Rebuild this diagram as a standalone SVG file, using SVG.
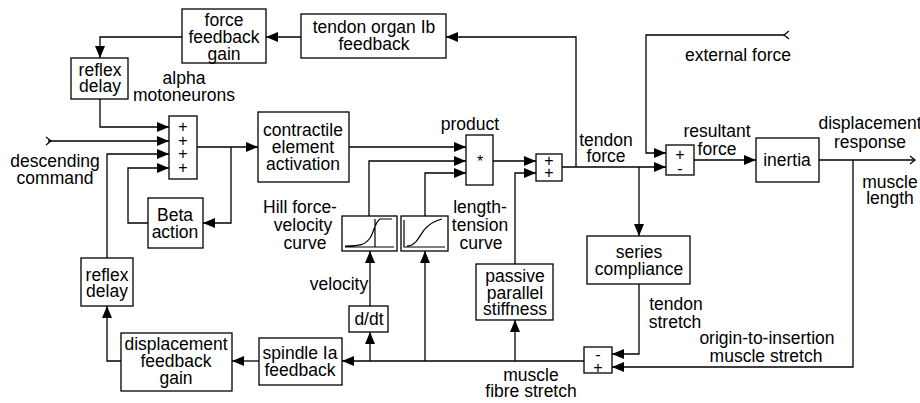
<svg xmlns="http://www.w3.org/2000/svg" width="920" height="403" viewBox="0 0 920 403">
<style>
.b{fill:#fff;stroke:#000;stroke-width:1.3}
.t{font-family:"Liberation Sans",Arial,sans-serif;font-size:17.5px;fill:#000;text-anchor:middle}
.s{font-family:"Liberation Sans",Arial,sans-serif;font-size:16px;fill:#000;text-anchor:middle}
.l{fill:none;stroke:#000;stroke-width:1.3}
.a{fill:none;stroke:#000;stroke-width:1.3;marker-end:url(#ah)}
.c{fill:none;stroke:#000;stroke-width:1.2}
</style>
<defs>
<marker id="ah" markerUnits="userSpaceOnUse" markerWidth="13" markerHeight="11" refX="12" refY="5" orient="auto">
<path d="M0,0 L12,5 L0,10 Z" fill="#000"/>
</marker>
</defs>
<rect width="920" height="403" fill="#fff"/>
<g id="connectors">
<path class="a" d="M301,37 H266"/>
<path class="a" d="M182,37 H100 V58"/>
<path class="a" d="M100,99 V127 H169"/>
<path class="a" d="M48,141 H169"/>
<path class="a" d="M107,258 V154 H169"/>
<path class="a" d="M148,223 H128 V168 H169"/>
<path class="a" d="M197,147 H258"/>
<path class="a" d="M231,147 V223 H203"/>
<path class="a" d="M349,147 H466"/>
<path class="a" d="M369,216 V161 H466"/>
<path class="a" d="M425,216 V173 H466"/>
<path class="a" d="M493,161 H536"/>
<path class="a" d="M515,264 V173 H536"/>
<path class="a" d="M562,167 H666"/>
<path class="a" d="M576,167 V37 H446"/>
<path class="a" d="M785,35 H646 V153 H666"/>
<path class="a" d="M639,167 V236"/>
<path class="a" d="M694,160 H756"/>
<path class="l" d="M819,160 H915"/>
<path class="a" d="M853,160 V367 H612"/>
<path class="a" d="M639,284 V354 H612"/>
<path class="a" d="M584,361 H342"/>
<path class="a" d="M370,361 V332"/>
<path class="a" d="M370,306 V251"/>
<path class="a" d="M425,361 V251"/>
<path class="a" d="M515,361 V320"/>
<path class="a" d="M259,361 H232"/>
<path class="a" d="M121,361 H107 V306"/>
<path class="c" d="M46,137 L51,141 L46,145"/>
<path class="c" d="M789,31 L784,35 L789,39"/>
<path class="c" d="M910,156 L915,160 L910,164"/>
</g>
<g id="force-feedback-gain">
<rect class="b" x="182" y="9" width="84" height="54"/>
<text class="t" x="224" y="26">force<tspan x="224" dy="17">feedback</tspan><tspan x="224" dy="17">gain</tspan></text>
</g>
<g id="tendon-organ">
<rect class="b" x="301" y="14" width="145" height="44"/>
<text class="t" x="374" y="33">tendon organ Ib<tspan x="374" dy="17">feedback</tspan></text>
</g>
<g id="reflex-delay-top">
<rect class="b" x="71" y="58" width="57" height="41"/>
<text class="t" x="100" y="76">reflex<tspan x="100" dy="16">delay</tspan></text>
</g>
<g id="alpha-label">
<text class="t" x="184" y="84">alpha<tspan x="184" dy="17">motoneurons</tspan></text>
</g>
<g id="sum-alpha">
<rect class="b" x="169" y="116" width="28" height="63"/>
<text class="s" x="183" y="132">+<tspan x="183" dy="14">+</tspan><tspan x="183" dy="13">+</tspan><tspan x="183" dy="14">+</tspan></text>
</g>
<g id="descending-command">
<text class="t" x="55" y="167">descending<tspan x="55" dy="17">command</tspan></text>
</g>
<g id="contractile">
<rect class="b" x="258" y="112" width="91" height="70"/>
<text class="t" x="303" y="136">contractile<tspan x="303" dy="17">element</tspan><tspan x="303" dy="17">activation</tspan></text>
</g>
<g id="beta-action">
<rect class="b" x="148" y="198" width="55" height="50"/>
<text class="t" x="175" y="221">Beta<tspan x="175" dy="17">action</tspan></text>
</g>
<g id="product">
<text class="t" x="470" y="130">product</text>
<rect class="b" x="466" y="135" width="27" height="50"/>
<text class="s" x="480" y="167">*</text>
</g>
<g id="hill-curve">
<rect class="b" x="342" y="216" width="55" height="35"/>
<path class="c" d="M345,247 H394 M375,219 V247 M345,246 C360,246 365,245 370,238 C374,232 375,222 380,219 L392,219"/>
<text class="t" x="300" y="213">Hill force-<tspan x="303" dy="18">velocity</tspan><tspan x="305" dy="18">curve</tspan></text>
</g>
<g id="length-tension">
<rect class="b" x="401" y="216" width="47" height="35"/>
<path class="c" d="M404,220 V247 H445 M407,246 C418,246 420,232 428,226 C434,221 438,220 442,219"/>
<text class="t" x="480" y="213">length-<tspan x="480" dy="18">tension</tspan><tspan x="481" dy="18">curve</tspan></text>
</g>
<g id="sum-tendon">
<rect class="b" x="536" y="154" width="26" height="27"/>
<text class="s" x="549" y="166">+<tspan x="549" dy="12">+</tspan></text>
</g>
<g id="tendon-force-label">
<text class="t" x="606" y="146">tendon<tspan x="606" dy="16">force</tspan></text>
</g>
<g id="external-force">
<text class="t" x="738" y="61">external force</text>
</g>
<g id="sum-resultant">
<rect class="b" x="666" y="145" width="28" height="30"/>
<text class="s" x="680" y="160">+<tspan x="680" dy="14">-</tspan></text>
</g>
<g id="resultant-label">
<text class="t" x="717" y="137">resultant<tspan x="717" dy="18">force</tspan></text>
</g>
<g id="inertia">
<rect class="b" x="756" y="138" width="63" height="44"/>
<text class="t" x="787" y="166">inertia</text>
</g>
<g id="displacement-response">
<text class="t" x="870" y="129">displacement<tspan x="870" dy="19">response</tspan></text>
</g>
<g id="muscle-length">
<text class="t" x="890" y="188">muscle<tspan x="890" dy="16">length</tspan></text>
</g>
<g id="series-compliance">
<rect class="b" x="587" y="236" width="103" height="48"/>
<text class="t" x="639" y="258">series<tspan x="639" dy="17">compliance</tspan></text>
</g>
<g id="tendon-stretch">
<text class="t" x="676" y="310">tendon<tspan x="675" dy="18">stretch</tspan></text>
</g>
<g id="origin-insertion">
<text class="t" x="767" y="344">origin-to-insertion<tspan x="766" dy="18">muscle stretch</tspan></text>
</g>
<g id="sum-fibre">
<rect class="b" x="584" y="347" width="28" height="26"/>
<text class="s" x="598" y="360">-<tspan x="598" dy="13">+</tspan></text>
</g>
<g id="muscle-fibre-stretch">
<text class="t" x="531" y="381">muscle<tspan x="531" dy="16">fibre stretch</tspan></text>
</g>
<g id="passive-stiffness">
<rect class="b" x="476" y="264" width="77" height="56"/>
<text class="t" x="515" y="282">passive<tspan x="515" dy="17">parallel</tspan><tspan x="515" dy="16">stiffness</tspan></text>
</g>
<g id="ddt">
<rect class="b" x="349" y="306" width="39" height="26"/>
<text class="t" x="369" y="325">d/dt</text>
</g>
<g id="velocity-label">
<text class="t" x="339" y="290">velocity</text>
</g>
<g id="spindle">
<rect class="b" x="259" y="338" width="83" height="47"/>
<text class="t" x="300" y="359">spindle Ia<tspan x="300" dy="17">feedback</tspan></text>
</g>
<g id="displacement-gain">
<rect class="b" x="121" y="333" width="111" height="58"/>
<text class="t" x="176" y="350">displacement<tspan x="176" dy="17">feedback</tspan><tspan x="176" dy="17">gain</tspan></text>
</g>
<g id="reflex-delay-bottom">
<rect class="b" x="81" y="258" width="52" height="48"/>
<text class="t" x="107" y="281">reflex<tspan x="107" dy="16">delay</tspan></text>
</g>
</svg>
